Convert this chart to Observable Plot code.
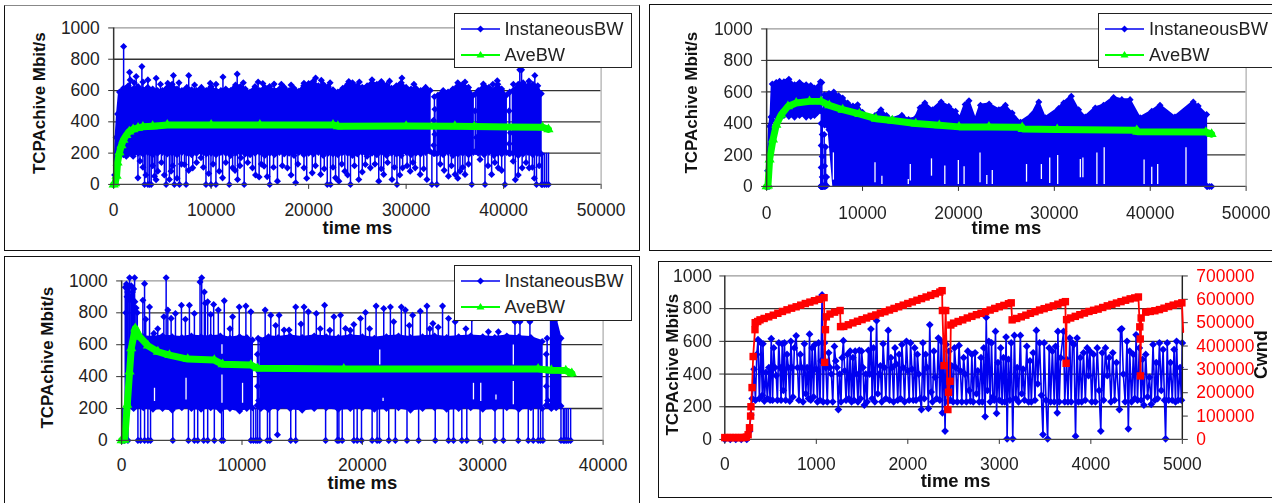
<!DOCTYPE html>
<html><head><meta charset="utf-8">
<script src="https://cdn.jsdelivr.net/npm/d3@7"></script>
<script src="https://cdn.jsdelivr.net/npm/@observablehq/plot@0.6"></script>
<style>
html,body{margin:0;padding:0;background:#fff;width:1272px;height:503px;overflow:hidden}
#page{position:absolute;left:0;top:0;width:1272px;height:503px;overflow:hidden;filter:blur(.45px);font-family:"Liberation Sans",Arial,sans-serif}
.frame{position:absolute;box-sizing:border-box;border:1.5px solid #111;background:#fff}
.frame svg{position:absolute;left:0;top:0;overflow:visible}
.legend{position:absolute;box-sizing:border-box;background:#fff;border:1.5px solid #222;font-size:18.3px;color:#222;z-index:5}
.legend svg{position:absolute;left:6px;overflow:visible}
.legend span{position:absolute;white-space:nowrap}
</style></head><body><div id="page"></div>
<script>
const blue="#0000f0", green="#00ff00", red="#ff0000";
const yTicks=[0,200,400,600,800,1000];
const seriesNames=["InstaneousBW","AveBW"];
const yTitle="TCPAchive Mbit/s", xTitle="time ms", cwndTitle="Cwnd";

// Panel 1: [time, upper edge of dense band, lower edge]
const band1=[[100,60,0],[250,300,0],[400,450,0],[600,590,180],[1000,615,190],[1500,630,195],[2000,610,180],[2500,625,200],[3000,605,195],[3500,620,205],[4000,610,190],[4500,600,200],[5000,600,205],[5500,620,195],[6000,640,200],[6500,610,190],[7000,600,205],[7500,620,200],[8000,605,190],[8500,600,200],[9000,620,205],[9500,600,195],[10000,625,200],[10500,600,190],[11000,600,205],[11500,610,200],[12000,600,185],[12500,635,200],[13000,625,205],[13500,610,195],[14000,590,190],[14500,625,200],[15000,600,205],[15500,620,185],[16000,625,200],[16500,600,190],[17000,610,205],[17500,620,195],[18000,600,200],[18500,615,185],[19000,595,205],[19500,630,190],[20000,645,200],[20500,660,195],[21000,630,205],[21500,640,185],[22000,625,200],[22500,605,195],[23000,590,190],[23500,615,205],[24000,640,200],[24500,650,185],[25000,630,195],[25500,620,205],[26000,630,180],[26500,650,200],[27000,640,190],[27500,650,205],[28000,635,185],[28500,615,200],[29000,630,195],[29500,650,185],[30000,620,205],[30500,610,190],[31000,615,200],[31500,600,195],[32000,620,205],[32470,600,210],[32500,null,null],
[33250,570,200],[33800,600,190],[34300,590,205],[34800,610,185],[35300,630,195],[35800,640,200],[36400,620,190],[36900,570,205],[37000,null,null],
[37400,600,200],[38000,630,190],[38500,620,205],[39000,600,185],[39400,640,200],[39800,610,195],[40290,570,205],[40400,null,null],
[40980,600,200],[41500,640,185],[42000,650,195],[42500,630,205],[43000,640,190],[43500,630,200],[43860,580,195]];
const spikesUp1=[[1022,881],[1635,717],[1700,668],[2310,690],[2895,753],[3510,668],[4360,679],[5550,647],[6130,696],[7700,696],[9910,647],[11210,686],[12670,705],[14820,654],[16455,641],[19520,647],[20715,680],[24120,658],[26500,669],[27460,658],[29570,680],[36040,654],[37920,641],[39350,662],[41660,732],[41840,732],[43200,696],
[2100,650],[3000,655],[4800,640],[6700,650],[8300,635],[10500,640],[13300,650],[15300,645],[17200,640],[18200,635],[21300,665],[22200,650],[25200,655],[28300,660],[30800,640],[35300,650],[38900,640],[41000,640],[42600,660]];
const spikesDown1=[[1295,180],[2490,42],[3170,0],[3510,0],[3850,0],[4190,53],[4530,85],[5380,0],[5720,32],[5890,85],[6230,0],[6750,0],[7260,127],[7430,0],[8110,106],[8960,170],[9470,0],[9980,0],[10490,0],[10830,85],[11170,42],[11860,0],[12200,106],[12710,32],[13050,170],[13390,0],[14240,106],[14920,47],[15430,117],[16010,0],[16800,21],[17820,106],[18670,11],[19520,106],[20370,74],[21230,64],[21910,0],[22245,0],[22760,42],[23100,21],[23710,85],[24290,0],[25140,32],[25820,127],[26330,106],[27190,21],[27700,64],[28550,32],[29060,0],[29640,106],[30420,85],[30930,106],[31440,64],[32130,32],[32640,0],[33150,0],[34340,53],[35020,64],[35530,85],[36040,64],[36730,0],[37580,159],[38090,0],[38770,64],[39450,106],[40130,0],[40980,148],[41900,106],[42620,106],[43370,0],[43880,0],[44000,0],[44200,0],[44400,0],[44600,0],
[2700,150],[3000,110],[3300,60],[3680,0],[4000,120],[4350,30],[4900,140],[5200,60],[6050,120],[6500,40],[6950,130],[7700,90],[8500,140],[9200,110],[9750,70],[10200,130],[11500,140],[12450,90],[12950,120],[13750,140],[14550,60],[15150,130],[15750,50],[16400,110],[17300,120],[18200,60],[18900,130],[19800,40],[20700,120],[21600,100],[22500,110],[23400,130],[24000,60],[24700,120],[25500,80],[26800,130],[27450,100],[28100,140],[28800,110],[29350,60],[30100,120],[30700,140],[31800,100],[33500,130],[33900,90],[34650,120],[35300,40],[35800,110],[36400,130],[38400,120],[39100,140],[39800,90],[41200,30],[41500,60],[42300,140],[42950,110],[43150,40],[43650,120]];
const gapColumn1=[[32900,560,200],[32950,480,200],[32820,410,200],[32950,320,200],[32830,250,200],[37150,580,210],[37080,470,210],[37200,300,210],[40630,590,200],[40560,470,200],[40700,330,200],[40580,260,200]];
const ave1=[[0,0],[150,8],[300,55],[400,140],[600,205],[800,250],[1000,285],[1300,315],[1600,338],[2000,352],[2500,362],[3000,368],[4000,372],[5500,380],[10000,380],[15000,380],[22500,380],[23000,372],[30000,373],[35000,372],[37000,370],[44000,365],[44600,352]];

// Panel 2
const band2=[[100,100,0],[310,382,0],[450,440,250],[590,650,420],[1000,660,445],[1350,667,440],[1800,665,450],[2320,681,445],[2910,645,440],[3430,660,450],[4120,645,440],[4600,640,445],[4990,625,450],[5300,630,470],[5610,665,480],[5700,null,null],
[6030,582,390],[6500,590,360],[7000,599,0],[7500,575,0],[7930,561,0],[8450,530,0],[9000,510,0],[9490,519,0],[10000,470,0],[10700,413,0],[11300,450,0],[11920,487,0],[12500,450,0],[13100,428,0],[14100,451,0],[14800,425,0],[15550,435,0],[16000,500,0],[16500,530,0],[17300,487,0],[18200,536,0],[19000,508,0],[19700,477,0],[20200,435,0],[20700,520,0],[21100,544,0],[21800,424,0],[22300,515,0],[23200,523,0],[24220,487,0],[24900,515,0],[25600,466,0],[26470,407,0],[27680,456,0],[28380,536,0],[29070,435,0],[30450,494,0],[30980,530,0],[31770,572,0],[32530,487,0],[33230,441,0],[34270,498,0],[35130,515,0],[36180,565,0],[37040,551,0],[37900,551,0],[38950,435,0],[40160,477,0],[41020,515,0],[42580,441,0],[44490,536,0],[45000,510,0],[45880,456,0],[45900,0,0]];
const column2=[[5750,660,0],[5700,550,0],[5800,480,0],[5680,400,0],[5800,330,0],[5690,260,0],[5790,190,0],[5690,120,0],[5800,60,0],[5700,5,0],[6000,330,5],[6150,250,5],[6050,130,5],[6250,60,5],[6000,5,0]];
const zeros2=[[46000,0],[46200,0],[46400,0],[5900,0],[6100,0],[100,0],[250,0],[0,0]];
const slits2=[[6960,40,213],[11300,23,150],[12020,12,65],[14770,12,44],[14980,34,139],[17190,65,175],[18580,12,129],[19990,12,165],[20590,12,125],[22250,23,213],[22960,12,70],[23530,12,101],[27100,27,139],[28650,44,139],[29520,19,181],[30350,12,196],[32710,55,171],[32980,55,181],[34440,12,213],[35200,12,245],[39360,12,167],[40160,12,122],[40780,12,139],[43730,12,245]];
const ave2=[[0,0],[140,5],[310,171],[660,297],[1010,392],[1525,456],[2220,508],[3080,530],[4470,540],[5680,540],[6530,515],[7930,487],[9660,460],[11400,430],[13100,418],[15550,399],[18000,388],[20060,378],[23180,378],[26650,375],[26700,365],[30300,362],[38600,356],[38650,347],[45800,345],[46400,332]];

// Panel 3
const band3=[[1000,640,200],[1800,650,205],[2600,645,195],[3400,655,200],[4200,650,190],[5000,645,205],[5800,655,200],[6600,650,195],[7400,650,205],[8200,655,190],[9000,640,200],[9800,650,185],[10400,645,200],[10870,630,205],[10900,null,null],
[11560,630,200],[12200,650,195],[13000,645,205],[14000,655,200],[15000,645,190],[16000,655,200],[17000,650,205],[18000,645,195],[19000,655,200],[20000,650,205],[21000,640,195],[22000,650,200],[23000,655,205],[24000,645,190],[25000,650,200],[26000,655,205],[27000,645,195],[28000,650,200],[29000,655,205],[30000,650,195],[31000,645,200],[32000,655,205],[33000,650,195],[34000,645,205],[34940,620,200],[35000,null,null],
[35700,770,200],[36100,760,205],[36500,640,215]];
const spikesUp3=[[662,1020],[1076,1020],[1766,879],[1904,983],[2318,837],[2677,671],[3505,775],[3698,1020],[3836,817],[4112,765],[4471,796],[4968,848],[5630,848],[6044,796],[6513,994],[6651,1020],[6872,931],[6950,860],[7148,869],[7645,852],[8031,817],[8528,875],[9218,775],[9770,837],[10322,842],[10736,806],[11923,817],[12392,785],[13082,785],[13496,692],[13910,692],[14462,837],[15152,837],[15511,806],[16173,796],[16863,848],[17636,775],[18188,785],[18602,702],[19292,727],[19844,764],[20258,802],[21141,842],[21776,827],[22328,837],[22604,744],[23239,837],[23570,817],[24177,785],[24812,810],[25364,842],[25861,733],[26661,842],[27158,764],[27710,744],[29090,764],[30470,681],[31298,681],[32678,744],[33092,744],[33920,744],
[2000,760],[3000,700],[5300,760],[7400,790],[9000,700],[12800,720],[14900,730],[16500,700],[17300,690],[19000,690],[20600,700],[23900,720],[25600,700],[26300,710],[28600,700]];
const blob3=[[300,960],[350,800],[400,980],[450,900],[500,930],[600,960],[650,880],[700,900],[800,970],[850,880],[900,930],[1000,950],[1100,870],[1200,830],[1300,800]];
const zeros3=[[100,0],[250,0],[524,0],[1352,0],[1573,0],[1904,0],[2180,0],[2400,0],[4250,0],[5547,0],[6044,0],[6320,0],[6817,0],[7148,0],[7700,0],[8307,0],[8445,0],[10736,0],[10950,0],[11150,0],[11300,0],[11481,0],[12116,0],[12309,0],[12944,35],[14048,0],[14462,0],[16946,0],[17912,0],[18050,0],[18326,0],[19292,0],[19568,0],[19927,0],[20810,0],[21224,0],[21417,0],[22190,0],[22742,0],[23708,0],[24674,0],[26054,0],[27158,0],[27572,0],[28262,0],[28676,0],[29780,0],[31022,0],[31712,0],[32954,0],[33782,0],[34196,0],[34610,0],[34800,0],[35000,0],[36500,0],[36700,0],[36818,0],[36950,0],[37100,0],[37300,0]];
const gapColumn3=[[11340,640,220],[11280,540,220],[11400,430,220],[11290,340,220],[11380,250,220],[35350,640,220],[35280,540,220],[35420,430,220],[35290,340,220],[35400,250,220]];
const slits3=[[2730,244,327],[5350,254,390],[8335,233,410],[8335,540,600],[10046,233,358],[21445,473,567],[21720,244,265],[29230,254,358],[29835,244,358],[31100,254,285],[32540,473,598],[32540,223,369]];
const ave3=[[0,0],[250,4],[470,223],[660,431],[800,577],[1130,702],[1490,650],[2180,594],[3010,556],[3970,535],[5490,510],[7700,504],[8390,477],[10740,473],[11290,452],[18460,448],[34600,448],[35700,440],[36900,438],[37400,420]];

// Panel 4
const bw4=[[0,0],[60,0],[120,0],[180,0],[240,0],[270,50],[285,150],[300,250],[320,430],[335,240],[350,520],[363,610],[378,250],[395,590],[410,270],[417,585],[432,235],[450,410],[465,250],[482,440],[495,240],[508,616],[522,240],[535,560],[548,440],[562,390],[575,240],[590,590],[603,440],[615,240],[628,585],[640,300],[652,590],[665,240],[680,520],[695,440],[710,235],[722,600],[735,440],[745,260],[760,560],[780,634],[795,440],[810,240],[825,520],[840,440],[855,230],[870,585],[885,280],[900,440],[915,250],[926,644],[940,240],[955,560],[970,260],[985,580],[1000,430],[1012,230],[1025,590],[1040,240],[1052,480],[1063,884],[1075,230],[1090,590],[1105,440],[1120,230],[1135,530],[1150,440],[1165,400],[1180,230],[1198,569],[1212,480],[1226,440],[1241,183],[1255,400],[1270,230],[1283,500],[1296,604],[1310,420],[1325,240],[1340,520],[1355,250],[1370,540],[1385,230],[1400,500],[1412,240],[1425,540],[1440,400],[1455,230],[1470,545],[1483,250],[1495,540],[1510,440],[1525,210],[1540,400],[1555,230],[1570,545],[1583,400],[1597,675],[1610,250],[1625,560],[1640,230],[1659,726],[1672,280],[1688,400],[1700,450],[1715,230],[1730,585],[1745,440],[1760,250],[1786,667],[1800,240],[1815,500],[1830,440],[1845,230],[1860,560],[1875,460],[1890,240],[1905,520],[1920,250],[1935,580],[1950,440],[1965,230],[1985,600],[2000,420],[2015,240],[2030,590],[2045,430],[2060,240],[2075,560],[2090,240],[2105,520],[2120,400],[2135,250],[2149,183],[2165,590],[2180,250],[2195,520],[2210,440],[2225,190],[2240,701],[2255,290],[2270,230],[2285,540],[2300,380],[2315,250],[2334,620],[2350,240],[2365,600],[2378,163],[2392,600],[2407,51],[2420,580],[2435,230],[2450,540],[2465,240],[2480,450],[2495,230],[2510,560],[2525,440],[2540,230],[2560,575],[2575,420],[2590,230],[2610,500],[2625,400],[2640,230],[2655,540],[2670,300],[2685,235],[2700,520],[2715,230],[2735,530],[2750,280],[2765,420],[2780,230],[2800,500],[2815,230],[2830,560],[2845,140],[2857,746],[2870,300],[2885,600],[2900,230],[2915,590],[2930,260],[2945,240],[2958,661],[2970,160],[2985,470],[3000,240],[3015,560],[3030,230],[3045,500],[3060,230],[3074,626],[3085,4],[3100,490],[3115,240],[3130,590],[3147,4],[3165,636],[3180,250],[3195,440],[3210,230],[3230,636],[3245,280],[3260,430],[3275,240],[3300,570],[3320,230],[3335,480],[3350,230],[3370,530],[3390,240],[3405,667],[3420,340],[3440,590],[3460,270],[3477,30],[3490,590],[3510,240],[3528,4],[3545,560],[3560,230],[3580,540],[3600,230],[3615,570],[3633,163],[3640,661],[3655,230],[3670,500],[3702,661],[3715,230],[3735,490],[3750,230],[3770,620],[3785,230],[3800,590],[3815,580],[3833,20],[3850,620],[3865,230],[3885,500],[3900,230],[3920,530],[3940,240],[3960,560],[3975,390],[3990,540],[4010,230],[4030,520],[4050,230],[4070,560],[4090,300],[4109,51],[4125,530],[4140,240],[4160,560],[4180,390],[4200,500],[4220,230],[4240,530],[4260,240],[4280,470],[4312,183],[4325,672],[4338,677],[4355,400],[4375,230],[4395,600],[4410,65],[4425,540],[4445,230],[4465,520],[4480,250],[4495,640],[4510,240],[4530,560],[4550,240],[4565,490],[4580,210],[4600,520],[4620,260],[4640,380],[4660,215],[4680,580],[4700,240],[4715,470],[4730,250],[4750,590],[4770,300],[4790,550],[4805,240],[4817,4],[4835,590],[4850,240],[4870,470],[4890,240],[4910,550],[4925,230],[4937,600],[4955,240],[4975,440],[4990,240],[5000,590]];
const cwnd4=[[0,8000],[30,8000],[60,8000],[90,8000],[120,8000],[150,8000],[180,8000],[210,8000],[235,10000],[255,20000],[270,50000],[282,100000],[286,140000],[298,222000],[310,355000],[330,470000],[332,500000],[360,505000],[385,512000],[430,518000],[480,525000],[530,532000],[580,540000],[630,548000],[680,555000],[730,562000],[780,568000],[830,575000],[880,582000],[930,588000],[980,594000],[1030,600000],[1085,607000],[1092,330000],[1100,470000],[1110,525000],[1150,537000],[1200,545000],[1260,552000],[1265,483000],[1300,484000],[1350,491000],[1400,499000],[1450,506000],[1500,513000],[1550,520000],[1600,527000],[1650,533000],[1700,541000],[1750,547000],[1800,554000],[1850,561000],[1900,568000],[1950,575000],[2000,582000],[2050,589000],[2100,596000],[2150,603000],[2200,610000],[2250,617000],[2300,624000],[2350,631000],[2375,637000],[2378,552000],[2396,316000],[2414,552000],[2438,128000],[2445,202000],[2461,249000],[2470,490000],[2500,498000],[2550,505000],[2600,512000],[2650,520000],[2700,527000],[2750,534000],[2800,540000],[2850,547000],[2900,554000],[2950,561000],[3000,568000],[3050,574000],[3100,581000],[3130,585000],[3140,512000],[3190,518000],[3240,525000],[3290,532000],[3340,540000],[3390,547000],[3440,554000],[3490,560000],[3540,566000],[3590,572000],[3640,579000],[3690,586000],[3722,590000],[3730,326000],[3735,513000],[3780,520000],[3830,527000],[3880,534000],[3930,541000],[3980,548000],[4030,553000],[4080,558000],[4130,565000],[4180,572000],[4230,578000],[4280,584000],[4330,590000],[4380,596000],[4430,602000],[4480,606000],[4520,610000],[4535,482000],[4540,430000],[4542,272000],[4550,520000],[4600,545000],[4650,548000],[4700,551000],[4750,556000],[4800,562000],[4850,569000],[4900,575000],[4950,580000],[4995,585000]];
const cwndEnd4=[[4995,585000],[5010,460000]];

function panel(o){
  const f=document.createElement("div");
  f.className="frame";
  f.style.cssText=`left:${o.fx}px;top:${o.fy}px;width:${o.fw}px;height:${o.fh}px;${o.css||""}`;
  const spec=(marks,extra)=>Object.assign({
    width:o.fw,height:o.fh,
    marginLeft:o.x0-o.fx-1.5,marginRight:o.fx+o.fw-o.x1+1.5,
    marginTop:o.y1-o.fy-1.5,marginBottom:o.fy+o.fh-o.y0+1.5,
    x:{domain:[0,o.xTicks[o.xTicks.length-1]]},
    y:{domain:[0,1000]},
    style:{background:"transparent",fontFamily:"Liberation Sans",color:"#222"},
    marks},extra);
  const base=[
    Plot.ruleY(yTicks.slice(1,-1),{stroke:"#333",strokeWidth:1.3}),
    Plot.ruleY([1000],{stroke:"#999",strokeWidth:1.3}),
    Plot.ruleX([o.xTicks[o.xTicks.length-1]],{stroke:"#aaa",strokeWidth:1.2}),
    ...o.data,
    Plot.ruleX([0],{stroke:"#333",strokeWidth:1.5}),
    Plot.ruleY([0],{stroke:"#444",strokeWidth:1.3}),
    Plot.axisX({ticks:o.xTicks,tickSize:5,tickPadding:o.xPad,fontSize:17.5,tickFormat:d3.format("d"),label:null,stroke:"#333"}),
    Plot.axisY({ticks:yTicks,tickSize:5,tickPadding:o.yPad||9,fontSize:17.5,tickFormat:d3.format("d"),label:null,stroke:"#333"}),
    Plot.text([xTitle],{frameAnchor:"bottom",dy:o.xTitleDy,dx:o.xTitleDx||0,fontWeight:"bold",fontSize:18.5,fill:"#111"}),
    Plot.text([yTitle],{frameAnchor:"left",textAnchor:"middle",rotate:-90,dx:o.yTitleDx,dy:o.yTitleDy,fontWeight:"bold",fontSize:17,fill:"#111"})
  ];
  f.appendChild(Plot.plot(spec(base)));
  if(o.overlay) f.appendChild(Plot.plot(spec(o.overlay,o.overlayOpts)));
  document.getElementById("page").appendChild(f);
  return f;
}
function legend(parent,x,y,w,tx){
  const l=document.createElement("div");
  l.className="legend";
  l.style.cssText=`left:${x}px;top:${y}px;width:${w}px;height:55.5px`;
  l.innerHTML=`<svg width="40" height="56" style="top:0"><line x1="0" x2="39" y1="15" y2="15" stroke="${blue}" stroke-width="1.5"/><path d="M19.5 11.5l3.5 3.5l-3.5 3.5l-3.5-3.5z" fill="${blue}"/><line x1="0" x2="39" y1="41" y2="41" stroke="${green}" stroke-width="2"/><path d="M19.5 37l4 6.5h-8z" fill="${green}"/></svg>
  <span style="left:${tx}px;top:4px">${seriesNames[0]}</span><span style="left:${tx}px;top:30px">${seriesNames[1]}</span>`;
  parent.appendChild(l);
}
const bx=r=>r[0], by=r=>r[1], by2=r=>r[2];
const dmd={symbol:"diamond2",fill:blue,r:3.2};
function dense(band,up,upBase,down,downBase,extra){
  const real=band.filter(r=>r[1]!=null);
  return [
    Plot.ruleX(down,{x:bx,y1:by,y2:downBase,stroke:blue,strokeWidth:1.5}),
    Plot.ruleX(up,{x:bx,y1:upBase,y2:by,stroke:blue,strokeWidth:1.5}),
    Plot.areaY(band,{x:bx,y1:by2,y2:by,fill:blue,stroke:blue,strokeWidth:2,curve:"linear"}),
    Plot.dot(real,{x:bx,y:by,...dmd}),
    Plot.dot(real.filter(r=>r[2]>0),{x:bx,y:by2,...dmd}),
    Plot.dot(up,{x:bx,y:by,...dmd}),
    Plot.dot(down,{x:bx,y:by,...dmd}),
    ...(extra||[])
  ];
}
function gapCol(rows){
  return [
    Plot.ruleX(rows,{x:bx,y1:by2,y2:by,stroke:blue,strokeWidth:1.5}),
    Plot.dot(rows,{x:bx,y:by,...dmd}),
    Plot.dot(rows,{x:bx,y:by2,...dmd})
  ];
}
function slits(rows){return Plot.ruleX(rows,{x:bx,y1:by,y2:by2,stroke:"#fff",strokeWidth:1.3});}
function aveMarks(rows){
  return [
    Plot.line(rows,{x:bx,y:by,stroke:green,strokeWidth:7,curve:"linear"}),
    Plot.dot(rows,{x:bx,y:by,symbol:"triangle",fill:green,r:3.8})
  ];
}

const p1=panel({fx:4,fy:5,fw:636,fh:246,x0:114,x1:603,y0:185,y1:28,
  xTicks:[0,10000,20000,30000,40000,50000],xPad:14,xTitleDy:50,yTitleDx:-74,yTitleDy:-3,
  css:"border-top-color:#888",
  data:[...dense(band1,spikesUp1,600,spikesDown1,200,gapCol(gapColumn1)),...aveMarks(ave1)]});
legend(p1,448.5,6.5,178,50);

const p2=panel({fx:649,fy:4,fw:641,fh:247,x0:767,x1:1248,y0:187,y1:29,
  xTicks:[0,10000,20000,30000,40000,50000],xPad:15,xTitleDy:48,yTitleDx:-75,yTitleDy:-5,
  data:[...dense(band2,[],600,zeros2,0,[...gapCol(column2),slits(slits2)]),...aveMarks(ave2)]});
legend(p2,448,7.5,180,50);

const p3=panel({fx:4,fy:256,fw:636,fh:260,x0:122,x1:605,y0:441,y1:281,
  xTicks:[0,10000,20000,30000,40000],xPad:13,xTitleDy:49,yTitleDx:-74,yTitleDy:-3,
  data:[Plot.ruleX(blob3,{x:bx,y1:200,y2:by,stroke:blue,strokeWidth:1.5}),Plot.dot(blob3,{x:bx,y:by,...dmd}),
    ...dense(band3,spikesUp3,640,zeros3,200,[...gapCol(gapColumn3),slits(slits3)]),...aveMarks(ave3)]});
legend(p3,448.5,8,178,50);

const mk4=[
  Plot.line(bw4,{x:bx,y:by,stroke:blue,strokeWidth:1.6,curve:"linear"}),
  Plot.dot(bw4,{x:bx,y:by,symbol:"diamond2",fill:blue,r:3.5})
];
const p4=panel({fx:658,fy:261,fw:632,fh:237,x0:725,x1:1184,y0:440,y1:276,
  xTicks:[0,1000,2000,3000,4000,5000],xPad:13,xTitleDy:48,xTitleDx:2,yPad:8,yTitleDx:-52,yTitleDy:7,
  data:mk4,
  overlay:[
    Plot.axisY({anchor:"right",ticks:[0,100000,200000,300000,400000,500000,600000,700000],tickSize:5,tickPadding:9,fontSize:17.5,tickFormat:d3.format("d"),label:null,fill:red,stroke:"#333"}),
    Plot.ruleX([5000],{stroke:"#222",strokeWidth:1.4}),
    Plot.line(cwnd4,{x:bx,y:by,stroke:red,strokeWidth:1.8,curve:"linear"}),
    Plot.line(cwndEnd4,{x:bx,y:by,stroke:red,strokeWidth:1.8}),
    Plot.dot(cwnd4,{x:bx,y:by,symbol:"square",fill:red,r:4.2}),
    Plot.text([cwndTitle],{frameAnchor:"right",textAnchor:"middle",rotate:-90,dx:79,dy:-3,fontWeight:"bold",fontSize:18,fill:"#111"})
  ],
  overlayOpts:{x:{domain:[0,5000],axis:null},y:{domain:[0,700000]}}
});
</script></body></html>
